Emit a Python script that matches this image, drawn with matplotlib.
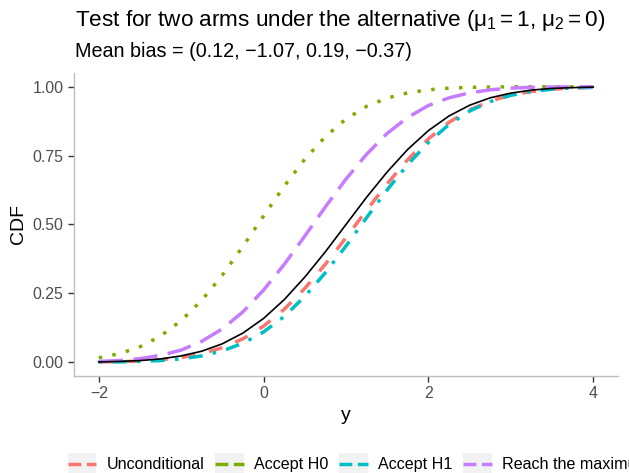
import matplotlib
matplotlib.use("Agg")
import matplotlib.pyplot as plt
from matplotlib.legend_handler import HandlerLine2D
from matplotlib.patches import Rectangle
from matplotlib.lines import Line2D

# values (CDF at each y)
y_grid = [-2, -1.75, -1.5, -1.25, -1, -0.75, -0.5, -0.25, 0, 0.25, 0.5, 0.75,
          1, 1.25, 1.5, 1.75, 2, 2.25, 2.5, 2.75, 3, 3.25, 3.5, 3.75, 4]

cdf_true = [0.001, 0.003, 0.006, 0.012, 0.023, 0.040, 0.067, 0.106, 0.159, 0.227,
            0.309, 0.401, 0.500, 0.599, 0.691, 0.773, 0.841, 0.894, 0.933, 0.960,
            0.977, 0.988, 0.994, 0.997, 0.999]
cdf_uncond = [0.001, 0.002, 0.004, 0.009, 0.017, 0.031, 0.053, 0.085, 0.131, 0.192,
              0.268, 0.356, 0.452, 0.552, 0.648, 0.736, 0.811, 0.871, 0.916, 0.948,
              0.970, 0.983, 0.991, 0.996, 0.998]
cdf_h0 = [0.016, 0.031, 0.056, 0.095, 0.151, 0.225, 0.316, 0.421, 0.531, 0.639,
          0.737, 0.819, 0.883, 0.929, 0.959, 0.978, 0.989, 0.995, 0.998, 0.999,
          1.000, 1.000, 1.000, 1.000, 1.000]
cdf_h1 = [0.001, 0.001, 0.003, 0.006, 0.012, 0.023, 0.041, 0.069, 0.110, 0.166,
          0.239, 0.325, 0.422, 0.525, 0.626, 0.718, 0.798, 0.863, 0.912, 0.946,
          0.969, 0.983, 0.991, 0.996, 0.998]
cdf_max = [0.003, 0.006, 0.013, 0.025, 0.044, 0.076, 0.121, 0.183, 0.262, 0.355,
           0.458, 0.564, 0.665, 0.755, 0.831, 0.889, 0.932, 0.960, 0.978, 0.989,
           0.995, 0.998, 0.999, 1.000, 1.000]

labels = ["Unconditional", "Accept H0", "Accept H1", "Reach the maximum"]
colors = ["#F8766D", "#7CAE00", "#00BFC4", "#C77CFF"]
styles = [(0, (4, 4)), (0, (1, 3)), (0, (1, 3, 4, 3)), (0, (7, 3))]

plt.rcParams["font.family"] = ["Liberation Sans", "DejaVu Sans"]
plt.rcParams["mathtext.fontset"] = "custom"
plt.rcParams["mathtext.rm"] = "Liberation Sans"
plt.rcParams["mathtext.it"] = "Liberation Sans"


class KeyHandler(HandlerLine2D):
    # ggplot style legend key: grey box behind the line
    def create_artists(self, legend, orig_handle, xdescent, ydescent,
                       width, height, fontsize, trans):
        bg = Rectangle((-xdescent, -ydescent), width, height,
                       facecolor="#F2F2F2", edgecolor="none", transform=trans)
        line = Line2D([-xdescent, -xdescent + width],
                      [height / 2 - ydescent] * 2,
                      color=orig_handle.get_color(),
                      linestyle=orig_handle.get_linestyle(),
                      linewidth=orig_handle.get_linewidth(),
                      transform=trans)
        return [bg, line]


fig = plt.figure(figsize=(6.29, 4.73), dpi=100)
ax = fig.add_axes([74 / 629, 1 - 376 / 473, 544 / 629, 303 / 473])

series = [cdf_uncond, cdf_h0, cdf_h1, cdf_max]
handles = []
for vals, lab, col, ls in zip(series, labels, colors, styles):
    h, = ax.plot(y_grid, vals, color=col, linestyle=ls, linewidth=2.5, label=lab)
    handles.append(h)
ax.plot(y_grid, cdf_true, color="black", linewidth=1.2)

ax.set_xlim(-2.3, 4.3)
ax.set_ylim(-0.05, 1.05)
ax.set_xticks([-2, 0, 2, 4])
ax.set_yticks([0, 0.25, 0.5, 0.75, 1.0])
ax.set_yticklabels(["0.00", "0.25", "0.50", "0.75", "1.00"])
for s in ["top", "right"]:
    ax.spines[s].set_visible(False)
for s in ["left", "bottom"]:
    ax.spines[s].set_color("#BEBEBE")
    ax.spines[s].set_linewidth(1.0)
ax.tick_params(colors="#333333", labelcolor="#4D4D4D", labelsize=11.4,
               length=4, width=1.0)
ax.set_xlabel("y", fontsize=14)
ax.set_ylabel("CDF", fontsize=14)

fig.text(75 / 629, 1 - 26 / 473,
         r"Test for two arms under the alternative ($\mu_1 = 1$, $\mu_2 = 0$)",
         fontsize=16.2, va="baseline", ha="left")
fig.text(75 / 629, 1 - 57 / 473, "Mean bias = (0.12, \u22121.07, 0.19, \u22120.37)",
         fontsize=14.2, va="baseline", ha="left")

fig.legend(handles=handles, labels=labels, ncol=4, frameon=False,
           loc="center left", bbox_to_anchor=(68 / 629, 1 - 464 / 473),
           fontsize=11.6, handlelength=1.75, handleheight=1.8,
           handletextpad=0.63, columnspacing=0.7, borderpad=0, borderaxespad=0,
           handler_map={Line2D: KeyHandler()})

fig.savefig("out.png", dpi=100)
